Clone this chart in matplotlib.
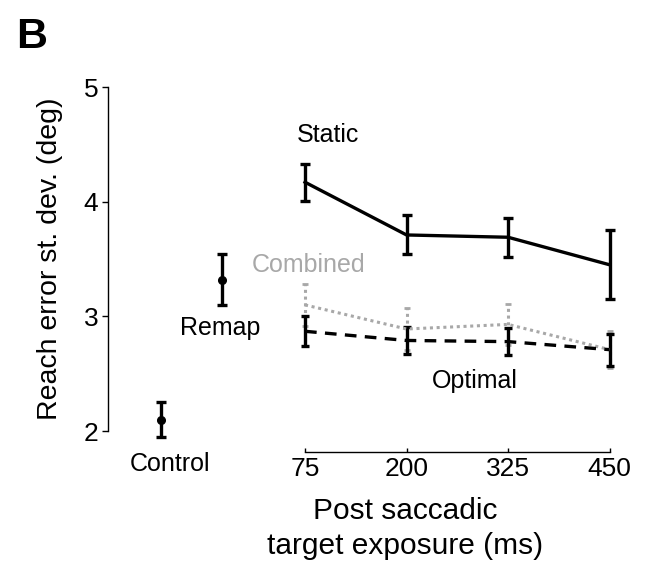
import matplotlib.pyplot as plt

plt.rcParams['font.family'] = ['Liberation Sans', 'DejaVu Sans']

# exposure durations (ms) and their slots on the x axis
exposure = ['75', '200', '325', '450']
exposure_pos = [0, 1, 2, 3]

# reach error st. dev. (deg) and its error bars
static_sd = [4.17, 3.71, 3.69, 3.45]
static_err = [0.16, 0.17, 0.17, 0.30]
combined_sd = [3.10, 2.89, 2.93, 2.71]
combined_err = [0.18, 0.18, 0.18, 0.16]
optimal_sd = [2.87, 2.79, 2.78, 2.71]
optimal_err = [0.13, 0.12, 0.12, 0.14]

# single conditions shown left of the exposure series
single_names = ['Control', 'Remap']
single_pos = [-1.42, -0.82]
single_sd = [2.10, 3.32]
single_err = [0.15, 0.22]

fig = plt.figure(figsize=(6.51, 5.65), dpi=100)
ax = fig.add_axes([0.166, 0.2005, 0.786, 0.6455])

ax.errorbar(exposure_pos, static_sd, yerr=static_err, color='black', lw=2.4,
            elinewidth=2.4, capsize=3.5, capthick=2.4)
comb = ax.errorbar(exposure_pos, combined_sd, yerr=combined_err, color='#a8a8a8', lw=2.2,
                   ls=(0, (1, 1.2)), elinewidth=2.2, capsize=2.0, capthick=2.0)
comb[2][0].set_linestyle((0, (1, 1.2)))
ax.errorbar(exposure_pos, optimal_sd, yerr=optimal_err, color='black', lw=2.4,
            ls=(0, (3.5, 2.5)), elinewidth=2.4, capsize=3.0, capthick=2.4)
ax.errorbar(single_pos, single_sd, yerr=single_err, fmt='o', color='black', ms=5.5,
            elinewidth=2.4, capsize=3.5, capthick=2.4)

lab = dict(fontsize=18, ha='center', va='center', clip_on=False)
ax.text(0.23, 4.58, 'Static', **lab)
ax.text(0.03, 3.45, 'Combined', color='#a8a8a8', **lab)
ax.text(single_pos[1] - 0.02, 2.90, single_names[1], **lab)
ax.text(1.67, 2.44, 'Optimal', **lab)
ax.text(single_pos[0] + 0.09, 1.71, single_names[0], **lab)

ax.set_xlim(-1.94, 3.1)
ax.set_ylim(1.82, 5.0)
ax.set_xticks(exposure_pos)
ax.set_xticklabels(exposure)
ax.set_yticks([2, 3, 4, 5])
ax.spines['top'].set_visible(False)
ax.spines['right'].set_visible(False)
ax.spines['left'].set_bounds(2, 5)
ax.spines['bottom'].set_bounds(0, 3)
ax.spines['left'].set_linewidth(1.0)
ax.spines['bottom'].set_linewidth(1.0)
ax.tick_params(axis='y', direction='out', length=4, width=1, labelsize=19, pad=3)
ax.tick_params(axis='x', direction='in', length=3, width=1, labelsize=19, pad=4)

ax.set_xlabel('Post saccadic\ntarget exposure (ms)', fontsize=21.5, labelpad=11,
              x=0.58, linespacing=1.35)
ax.set_ylabel('Reach error st. dev. (deg)', fontsize=20.5, labelpad=15, y=0.53)

fig.text(0.025, 0.915, 'B', fontsize=31, fontweight='bold')

fig.savefig('out.png', dpi=100)
